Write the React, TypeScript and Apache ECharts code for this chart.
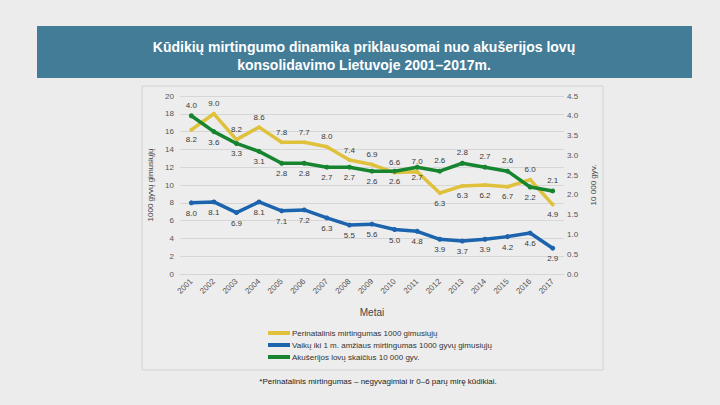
import React, { useEffect, useRef } from "react";
import * as echarts from "echarts";

const years = ["2001","2002","2003","2004","2005","2006","2007","2008","2009","2010","2011","2012","2013","2014","2015","2016","2017"];
// perinatal mortality: plotted positions (left axis) and printed labels
const perinatalPlot = [16.2, 18.0, 15.1, 16.5, 14.8, 14.8, 14.3, 12.8, 12.3, 11.4, 11.5, 9.1, 9.9, 10.0, 9.8, 10.6, 7.8];
const perinatalLabels = ["8.2","9.0","8.2","8.6","7.8","7.7","8.0","7.4","6.9","6.6","7.0","6.3","6.3","6.2","6.7","6.0","4.9"];
const infant = [8.0, 8.1, 6.9, 8.1, 7.1, 7.2, 6.3, 5.5, 5.6, 5.0, 4.8, 3.9, 3.7, 3.9, 4.2, 4.6, 2.9];
const beds = [4.0, 3.6, 3.3, 3.1, 2.8, 2.8, 2.7, 2.7, 2.6, 2.6, 2.7, 2.6, 2.8, 2.7, 2.6, 2.2, 2.1];
const leftTicks = { min: 0, max: 20, interval: 2 };
const rightTicks = { min: 0, max: 4.5, interval: 0.5 };
const seriesNames = [
  "Perinatalinis mirtingumas 1000 gimusiųjų",
  "Vaikų iki 1 m. amžiaus mirtingumas 1000 gyvų gimusiųjų",
  "Akušerijos lovų skaičius 10 000 gyv.",
];

const perinatalPos = ["bottom","top","top","top","top","top","top","top","top","top","top","bottom","bottom","bottom","bottom","top","bottom"];
const bedsPos = ["top","bottom","bottom","bottom","bottom","bottom","bottom","bottom","bottom","bottom","bottom","top","top","top","top","bottom","top"];

const FONT = "'Liberation Sans', Arial, sans-serif";

export default function App() {
  const ref = useRef<HTMLDivElement>(null);
  useEffect(() => {
    if (!ref.current) return;
    const chart = echarts.init(ref.current, null, { renderer: "svg" });
    const lbl = { fontSize: 8, color: "#3a3a3a", fontFamily: FONT, distance: 4 };
    chart.setOption({
      animation: false,
      backgroundColor: "#ececec",
      textStyle: { fontFamily: FONT },
      graphic: [
        { type: "rect", shape: { x: 37, y: 26, width: 655, height: 52 }, style: { fill: "#427c97" } },
        { type: "text", x: 364, y: 47, style: { text: "Kūdikių mirtingumo dinamika priklausomai nuo akušerijos lovų", fill: "#ffffff", font: `bold 14px ${FONT}`, align: "center", verticalAlign: "middle" } },
        { type: "text", x: 364, y: 65, style: { text: "konsolidavimo Lietuvoje 2001–2017m.", fill: "#ffffff", font: `bold 14px ${FONT}`, align: "center", verticalAlign: "middle" } },
        { type: "rect", z: -1, shape: { x: 142, y: 86, width: 461, height: 284 }, style: { fill: "#ededed", stroke: "#d2d2d2", lineWidth: 1 } },
        { type: "text", x: 378, y: 381, style: { text: "*Perinatalinis mirtingumas – negyvagimiai ir 0–6 parų mirę kūdikiai.", fill: "#222222", font: `8px ${FONT}`, align: "center", verticalAlign: "middle" } },
      ],
      legend: {
        data: seriesNames,
        orient: "vertical",
        left: 263,
        top: 324,
        icon: "rect",
        itemWidth: 22,
        itemHeight: 4,
        itemGap: 4,
        textStyle: { fontSize: 8, color: "#333", fontFamily: FONT, padding: [0, 0, 0, -3] },
      },
      grid: { left: 180, right: 156, top: 96, bottom: 131 },
      xAxis: {
        type: "category",
        data: years,
        boundaryGap: true,
        axisTick: { show: false },
        axisLine: { lineStyle: { color: "#d6d6d6" } },
        axisLabel: { rotate: 45, fontSize: 8, color: "#555", margin: 6 },
        name: "Metai",
        nameLocation: "middle",
        nameGap: 33,
        nameTextStyle: { fontSize: 10, color: "#444" },
      },
      yAxis: [
        {
          type: "value",
          ...leftTicks,
          axisLine: { show: false },
          axisTick: { show: false },
          axisLabel: { fontSize: 8, color: "#555", margin: 6 },
          splitLine: { lineStyle: { color: "#d6d6d6" } },
          name: "1000 gyvų gimusiųjų",
          nameLocation: "middle",
          nameRotate: 90,
          nameGap: 24,
          nameTextStyle: { fontSize: 8, color: "#444" },
        },
        {
          type: "value",
          position: "right",
          ...rightTicks,
          axisLine: { show: false },
          axisTick: { show: false },
          splitLine: { show: false },
          axisLabel: { fontSize: 8, color: "#555", margin: 3, formatter: (v: number) => v.toFixed(1) },
          name: "10 000 gyv.",
          nameLocation: "middle",
          nameRotate: 90,
          nameGap: 15,
          nameTextStyle: { fontSize: 8, color: "#444" },
        },
      ],
      series: [
        {
          name: seriesNames[0],
          type: "line",
          yAxisIndex: 0,
          color: "#dfc13c",
          lineStyle: { width: 3.5 },
          symbol: "circle",
          symbolSize: 4,
          data: perinatalPlot.map((v, i) => ({ value: v, label: { position: perinatalPos[i] } })),
          label: { show: true, ...lbl, formatter: (p: any) => perinatalLabels[p.dataIndex] },
        },
        {
          name: seriesNames[1],
          type: "line",
          yAxisIndex: 0,
          color: "#1c64ae",
          lineStyle: { width: 3.5 },
          symbol: "circle",
          symbolSize: 5,
          data: infant,
          label: { show: true, position: "bottom", ...lbl, formatter: (p: any) => Number(p.value).toFixed(1) },
        },
        {
          name: seriesNames[2],
          type: "line",
          yAxisIndex: 1,
          color: "#178530",
          lineStyle: { width: 3.5 },
          symbol: "circle",
          symbolSize: 5,
          data: beds.map((v, i) => ({ value: v, label: { position: bedsPos[i] } })),
          label: { show: true, ...lbl, formatter: (p: any) => Number(p.value).toFixed(1) },
        },
      ],
    });
    return () => chart.dispose();
  }, []);
  return <div ref={ref} style={{ position: "fixed", left: 0, top: 0, width: 720, height: 405 }} />;
}
